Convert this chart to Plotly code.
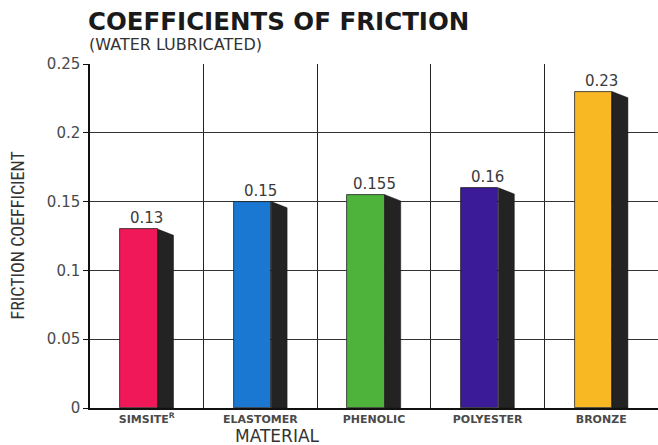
import plotly.graph_objects as go

categories = ["SIMSITE<sup>R</sup>", "ELASTOMER", "PHENOLIC", "POLYESTER", "BRONZE"]
values = [0.13, 0.15, 0.155, 0.16, 0.23]
value_labels = ["0.13", "0.15", "0.155", "0.16", "0.23"]
colors = ["#F01858", "#1A78D2", "#4DB33B", "#3B1B98", "#F8B823"]
y_ticks = [0, 0.05, 0.1, 0.15, 0.2, 0.25]
y_tick_labels = ["0", "0.05", "0.1", "0.15", "0.2", "0.25"]

W, H = 658, 445
L, R, T, B = 90, 0, 64, 37
plot_w = W - L - R
plot_h = H - T - B

front_off, front_w = -0.235, 0.33
side_w = 0.14
drop = 0.0045

idx = list(range(len(categories)))
fig = go.Figure()

# side (shadow) faces
for i, v in zip(idx, values):
    x0 = i + front_off + front_w
    fig.add_trace(go.Scatter(
        x=[x0, x0 + side_w, x0 + side_w, x0, x0],
        y=[v, v - drop, 0, 0, v],
        mode="lines", fill="toself", fillcolor="#232323",
        line=dict(color="#111111", width=0.5), hoverinfo="skip", showlegend=False))

fig.add_trace(go.Bar(
    x=idx, y=values, width=front_w, offset=front_off,
    marker=dict(color=colors, line=dict(color="#222222", width=0.8)),
    hoverinfo="y", showlegend=False))

annotations = [
    dict(text="<b>COEFFICIENTS OF FRICTION</b>", xref="paper", yref="paper",
         x=(86 - L) / plot_w, y=(H - B - 5) / plot_h, xanchor="left", yanchor="top",
         showarrow=False, font=dict(family="DejaVu Sans", size=24.5, color="#1a1a1a")),
    dict(text="(WATER LUBRICATED)", xref="paper", yref="paper",
         x=(87 - L) / plot_w, y=(H - B - 33) / plot_h, xanchor="left", yanchor="top",
         showarrow=False, font=dict(family="DejaVu Sans", size=16, color="#333333")),
    dict(text="FRICTION COEFFICIENT", xref="paper", yref="paper", textangle=-90,
         x=(16.5 - L) / plot_w, y=(H - B - 236) / plot_h, xanchor="center", yanchor="middle",
         showarrow=False,
         font=dict(family="Liberation Sans Narrow, Roboto Condensed, Roboto", size=18, color="#333333")),
    dict(text="MATERIAL", xref="paper", yref="paper",
         x=(277 - L) / plot_w, y=(H - B - 436) / plot_h, xanchor="center", yanchor="middle",
         showarrow=False, font=dict(family="DejaVu Sans", size=17, color="#333333")),
]
for i, v, t in zip(idx, values, value_labels):
    annotations.append(dict(
        text=t, x=i + front_off + (front_w + side_w) / 2, y=v, xref="x", yref="y",
        xanchor="center", yanchor="bottom", yshift=0, showarrow=False,
        font=dict(family="DejaVu Sans", size=15, color="#3a3a3a")))

fig.update_layout(
    width=W, height=H, margin=dict(l=L, r=R, t=T, b=B, autoexpand=False),
    plot_bgcolor="white", paper_bgcolor="white",
    bargap=0,
    xaxis=dict(range=[-0.5, 4.5], tickvals=idx, ticktext=categories, automargin=False,
               showgrid=False, showline=True, linecolor="#111111", linewidth=1.5,
               ticks="", zeroline=False,
               tickfont=dict(family="DejaVu Sans", size=11, color="#4a4a4a", weight="bold"),
               minor=dict(tickvals=[i + 0.5 for i in idx[:-1]], showgrid=True,
                          gridcolor="#222222", gridwidth=1, ticks="")),
    yaxis=dict(range=[0, 0.25], tickvals=y_ticks, ticktext=y_tick_labels, automargin=False,
               showgrid=True, gridcolor="#333333", gridwidth=1,
               showline=True, linecolor="#111111", linewidth=1.5,
               ticks="outside", ticklen=5, tickcolor="#111111", zeroline=False,
               tickfont=dict(family="DejaVu Sans", size=15, color="#4a4a4a")),
    annotations=annotations,
)

fig.write_html("out.html", config={"displayModeBar": False},
               post_script="document.body.style.margin='0';document.body.style.overflow='hidden';")
